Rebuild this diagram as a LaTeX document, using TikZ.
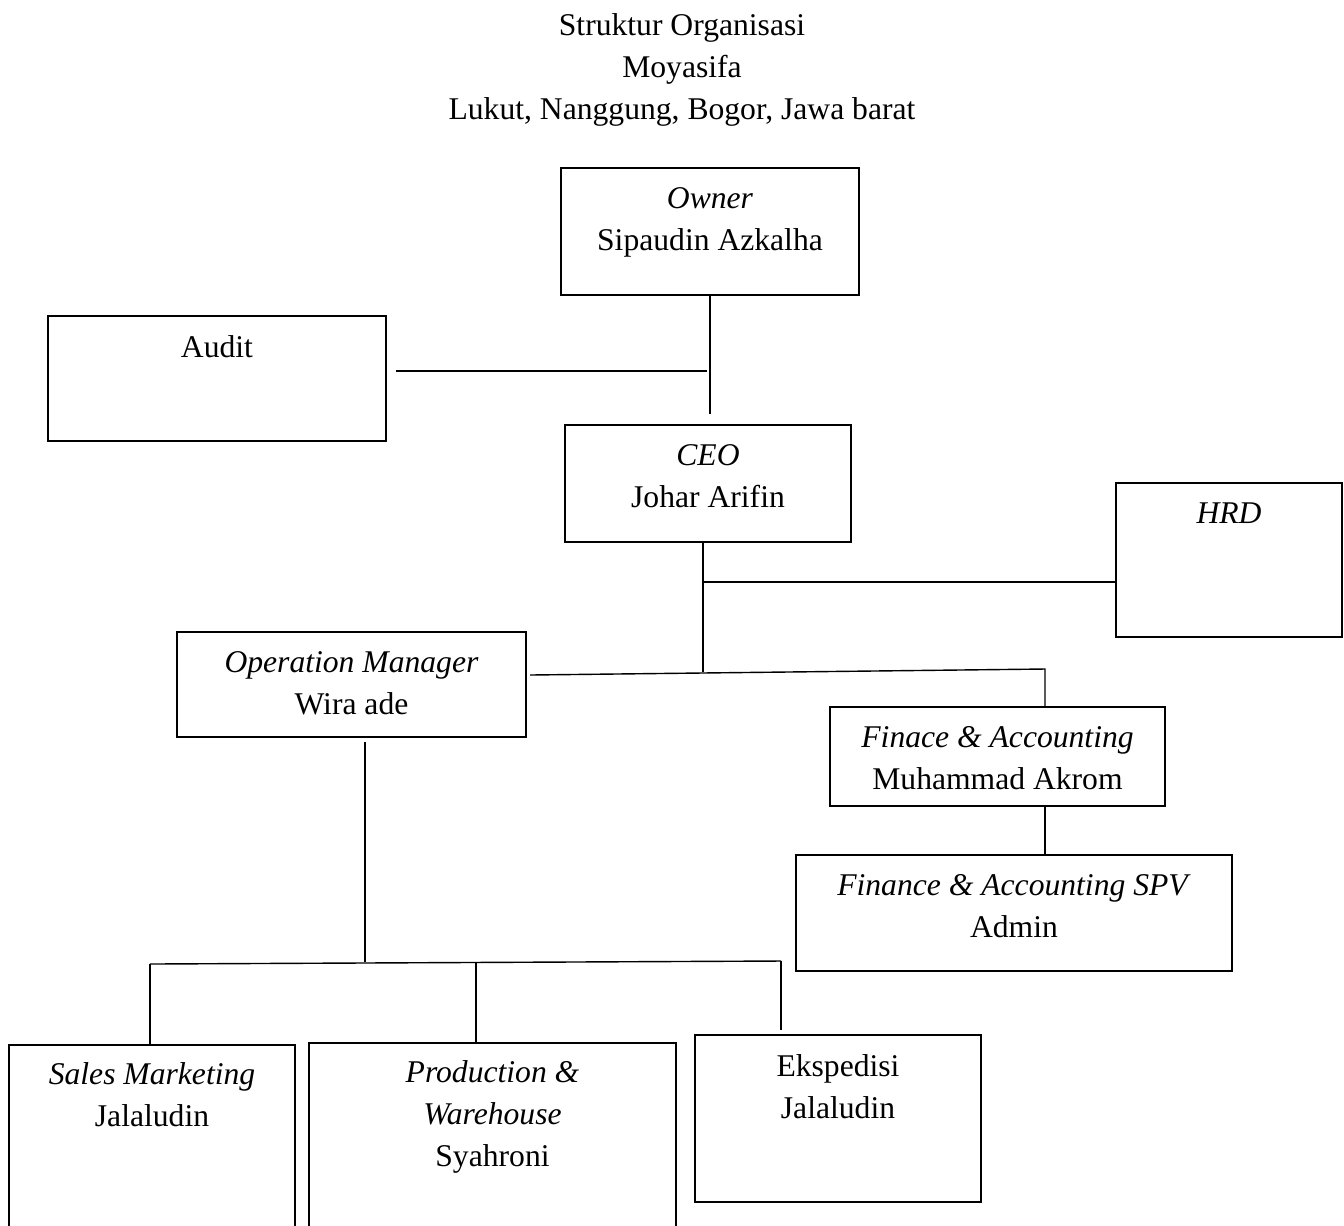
\documentclass[tikz,border=0pt]{standalone}
\usepackage{fontspec}
\setmainfont{Liberation Serif}
\usetikzlibrary{positioning}

\begin{document}
\begin{tikzpicture}[x=0.02cm,y=-0.02cm,line width=0.8pt,
    font=\fontsize{18}{24}\selectfont]
  \tikzstyle{box}=[draw=black,rectangle,inner sep=0pt]
  \tikzstyle{lbl}=[inner sep=0pt,align=center]
  \path[use as bounding box,clip] (0,0) rectangle (1344,1225);

  %--- Title ---
  \node[lbl,anchor=north] (title) at (682,13)
    {Struktur Organisasi\\Moyasifa\\Lukut, Nanggung, Bogor, Jawa barat};

  %--- Boxes ---
  \node[box,minimum width=5.96cm,minimum height=2.54cm] (owner) at (710,231.5) {};
  \node[box,minimum width=6.76cm,minimum height=2.50cm] (audit) at (217,378.5) {};
  \node[box,minimum width=5.72cm,minimum height=2.34cm] (ceo)   at (708,483.5) {};
  \node[box,minimum width=4.52cm,minimum height=3.08cm] (hrd)   at (1229,560) {};
  \node[box,minimum width=6.98cm,minimum height=2.10cm] (om)    at (351.5,684.5) {};
  \node[box,minimum width=6.70cm,minimum height=1.98cm] (fa)    at (997.5,756.5) {};
  \node[box,minimum width=8.72cm,minimum height=2.32cm] (spv)   at (1014,913) {};
  \node[box,minimum width=5.72cm,minimum height=4.00cm] (sales) at (152,1145) {};
  \node[box,minimum width=7.34cm,minimum height=4.04cm] (prod)  at (492.5,1144) {};
  \node[box,minimum width=5.72cm,minimum height=3.34cm] (eksp)  at (838,1118.5) {};

  %--- Texts in the boxes ---
  \node[lbl,below=11pt of owner.north] (ownerT) {\textit{Owner}\\Sipaudin Azkalha};
  \node[lbl,below=11pt of audit.north] (auditT) {Audit};
  \node[lbl,below=11pt of ceo.north]   (ceoT)   {\textit{CEO}\\Johar Arifin};
  \node[lbl,below=11pt of hrd.north]   (hrdT)   {\textit{HRD}};
  \node[lbl,below=11pt of om.north]    (omT)    {\textit{Operation Manager}\\Wira ade};
  \node[lbl,below=11pt of fa.north]    (faT)    {\textit{Finace \& Accounting}\\Muhammad Akrom};
  \node[lbl,below=11pt of spv.north]   (spvT)   {\textit{Finance \& Accounting SPV}\\Admin};
  \node[lbl,below=10pt of sales.north] (salesT) {\textit{Sales Marketing}\\Jalaludin};
  \node[lbl,below=10pt of prod.north]  (prodT)  {\textit{Production \&}\\\textit{Warehouse}\\Syahroni};
  \node[lbl,below=11pt of eksp.north]  (ekspT)  {Ekspedisi\\Jalaludin};

  %--- Joints ---
  \coordinate (j1) at (710,414);
  \coordinate (a1) at (396,371);
  \coordinate (a2) at (707,371);
  \coordinate (j2) at (703,672);
  \coordinate (h1) at (703,582);
  \coordinate (m1) at (530,675);
  \coordinate (m2) at (1045,669);
  \coordinate (o1) at (365,742);
  \coordinate (o2) at (365,962);
  \coordinate (b1) at (150,964);
  \coordinate (b2) at (476,963);
  \coordinate (b3) at (781,961);
  \coordinate (b4) at (781,1030);

  %--- Lines ---
  \draw (owner.south) -- (j1);
  \draw (a1) -- (a2);
  \draw (j2 |- ceo.south) -- (j2);
  \draw (h1) -- (h1 -| hrd.west);
  \draw (m1) -- (m2) -- (m2 |- fa.north);
  \draw (fa.south -| m2) -- (spv.north -| m2);
  \draw (o1) -- (o2);
  \draw (b1) -- (b3);
  \draw (b1) -- (b1 |- sales.north);
  \draw (b2) -- (b2 |- prod.north);
  \draw (b3) -- (b4);
\end{tikzpicture}
\end{document}
